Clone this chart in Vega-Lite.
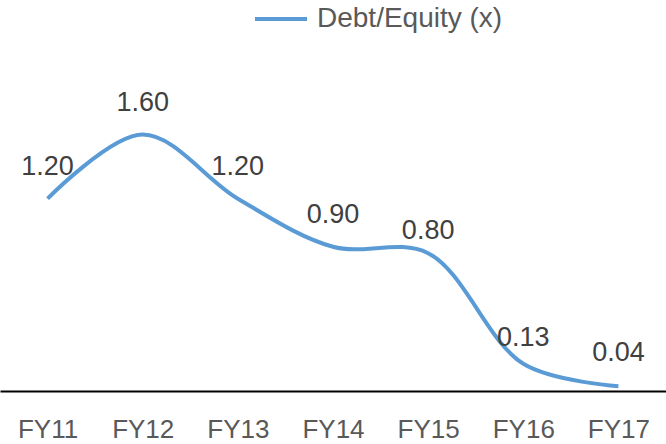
{
  "$schema": "https://vega.github.io/schema/vega-lite/v6.json",
  "width": 666,
  "height": 391,
  "padding": {"left": 0, "top": 0, "right": 0, "bottom": 53},
  "autosize": {"type": "none"},
  "background": "white",
  "config": {"view": {"stroke": null}, "font": "Liberation Sans"},
  "data": {
    "values": [
      {"year": "FY11", "value": 1.2, "label": 1.2},
      {"year": "FY12", "value": 1.6, "label": 1.6},
      {"year": "FY13", "value": 1.2, "label": 1.2},
      {"year": "FY14", "value": 0.9, "label": 0.9},
      {"year": "FY15", "value": 0.86, "label": 0.8},
      {"year": "FY16", "value": 0.17, "label": 0.13},
      {"year": "FY17", "value": 0.03, "label": 0.04}
    ]
  },
  "encoding": {
    "x": {
      "field": "year",
      "type": "ordinal",
      "sort": null,
      "scale": {"type": "point", "padding": 0.5},
      "axis": {
        "title": null,
        "ticks": false,
        "grid": false,
        "domainColor": "#000000",
        "domainWidth": 2,
        "labelFontSize": 26,
        "labelColor": "#595959",
        "labelFont": "Liberation Sans",
        "labelPadding": 25,
        "labelAngle": 0
      }
    }
  },
  "layer": [
    {
      "mark": {"type": "line", "interpolate": "catmull-rom", "strokeWidth": 4, "strokeCap": "butt"},
      "encoding": {
        "y": {"field": "value", "type": "quantitative", "scale": {"domain": [0, 2.44], "nice": false, "zero": true}, "axis": null},
        "color": {
          "datum": "Debt/Equity (x)",
          "type": "nominal",
          "scale": {"range": ["#5B9BD5"]},
          "legend": {
            "title": null,
            "orient": "none",
            "legendX": 253,
            "legendY": -9,
            "padding": 0,
            "symbolType": "stroke",
            "symbolSize": 2704,
            "symbolStrokeWidth": 4,
            "labelFontSize": 28,
            "labelColor": "#595959",
            "labelFont": "Liberation Sans",
            "labelOffset": 8,
            "labelLimit": 400
          }
        }
      }
    },
    {
      "mark": {"type": "text", "fontSize": 27, "dy": -32, "color": "#404040", "font": "Liberation Sans"},
      "encoding": {
        "y": {"field": "label", "type": "quantitative"},
        "text": {"field": "label", "type": "quantitative", "format": ".2f"}
      }
    }
  ]
}
